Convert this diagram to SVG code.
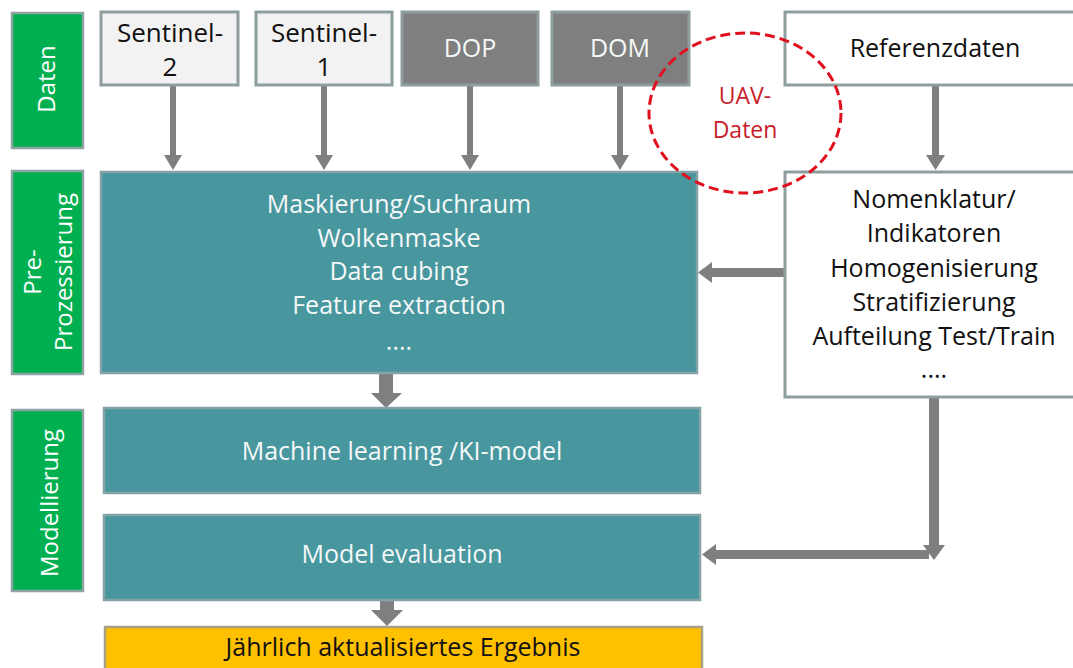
<svg xmlns="http://www.w3.org/2000/svg" width="1073" height="668" viewBox="0 0 1073 668">
<style>
text{font-family:"Open Sans","Liberation Sans",sans-serif;text-anchor:middle}
.lane{fill:#00b050;stroke:#8fa3a3;stroke-width:2.5}
.lane text{fill:#ffffff;font-size:24px}
.light{fill:#f2f2f2;stroke:#8e9e9f;stroke-width:3}
.dark{fill:#7f7f7f;stroke:#8e9e9f;stroke-width:3}
.white{fill:#ffffff;stroke:#8e9e9f;stroke-width:3}
.teal{fill:#48969e;stroke:#85a3a6;stroke-width:2.5}
.yellow{fill:#ffc000;stroke:#a8a080;stroke-width:2.5}
.blk{fill:#111111;font-size:25px}
.wht{fill:#f4f8f8;font-size:25px}
.top{font-size:26px}
.arrow{fill:#7f7f7f}
</style>
<rect width="1073" height="668" fill="#ffffff"/>

<g id="lane-daten" class="lane">
<rect x="12" y="13" width="71" height="135"/>
<text transform="translate(55,79) rotate(-90)" stroke="none">Daten</text>
</g>
<g id="lane-pre" class="lane">
<rect x="12" y="171" width="71" height="203"/>
<text transform="translate(41,272) rotate(-90)" stroke="none">Pre-</text>
<text transform="translate(72,272) rotate(-90)" stroke="none">Prozessierung</text>
</g>
<g id="lane-model" class="lane">
<rect x="12" y="410" width="71" height="181"/>
<text transform="translate(58,503) rotate(-90)" stroke="none">Modellierung</text>
</g>

<g id="connectors">
<rect class="arrow" x="170" y="85" width="6" height="72"/>
<polygon class="arrow" points="164,155 182,155 173,170"/>
<rect class="arrow" x="321" y="85" width="6" height="72"/>
<polygon class="arrow" points="315,155 333,155 324,170"/>
<rect class="arrow" x="467" y="85" width="6" height="72"/>
<polygon class="arrow" points="461,155 479,155 470,170"/>
<rect class="arrow" x="617" y="85" width="6" height="72"/>
<polygon class="arrow" points="611,155 629,155 620,170"/>
<rect class="arrow" x="932" y="85" width="7" height="72"/>
<polygon class="arrow" points="926,155 945,155 935.5,170"/>
<rect class="arrow" x="710" y="268" width="75" height="9"/>
<polygon class="arrow" points="712,262 712,283 698,272.5"/>
<rect class="arrow" x="379" y="374" width="14" height="21"/>
<polygon class="arrow" points="371,393 402,393 386,408"/>
<rect class="arrow" x="929" y="397" width="10" height="150"/>
<polygon class="arrow" points="923,545 945,545 934,560"/>
<rect class="arrow" x="714" y="550" width="215" height="9"/>
<polygon class="arrow" points="716,544 716,565 702,554.5"/>
<rect class="arrow" x="380" y="600" width="14" height="12"/>
<polygon class="arrow" points="371,610 403,610 387,626"/>
</g>

<g id="node-s2">
<rect class="light" x="101" y="12" width="137" height="73"/>
<text class="blk top" x="170" y="42">Sentinel-</text>
<text class="blk top" x="170" y="76">2</text>
</g>
<g id="node-s1">
<rect class="light" x="256" y="12" width="136" height="73"/>
<text class="blk top" x="324" y="42">Sentinel-</text>
<text class="blk top" x="324" y="76">1</text>
</g>
<g id="node-dop">
<rect class="dark" x="402" y="12" width="136" height="73"/>
<text class="wht" x="470" y="57">DOP</text>
</g>
<g id="node-dom">
<rect class="dark" x="552" y="12" width="137" height="73"/>
<text class="wht" x="620" y="57">DOM</text>
</g>
<g id="node-ref">
<rect class="white" x="785" y="12" width="300" height="73"/>
<text class="blk" x="935" y="57">Referenzdaten</text>
</g>

<g id="node-pre">
<rect class="teal" x="101" y="172" width="596" height="201"/>
<text class="wht" x="399" y="213">Maskierung/Suchraum</text>
<text class="wht" x="399" y="247">Wolkenmaske</text>
<text class="wht" x="399" y="280">Data cubing</text>
<text class="wht" x="399" y="314">Feature extraction</text>
<text class="wht" x="399" y="350">....</text>
</g>

<g id="node-nomen">
<rect class="white" x="785" y="172" width="300" height="225"/>
<text class="blk" x="934" y="208">Nomenklatur/</text>
<text class="blk" x="934" y="242">Indikatoren</text>
<text class="blk" x="934" y="277">Homogenisierung</text>
<text class="blk" x="934" y="311">Stratifizierung</text>
<text class="blk" x="934" y="345">Aufteilung Test/Train</text>
<text class="blk" x="934" y="378">....</text>
</g>

<g id="node-uav">
<ellipse cx="745" cy="113" rx="96" ry="80" fill="none" stroke="#e0101e" stroke-width="3" stroke-dasharray="10,5"/>
<text x="745" y="104" fill="#c8202a" font-size="23">UAV-</text>
<text x="745" y="138" fill="#c8202a" font-size="23">Daten</text>
</g>

<g id="node-ml">
<rect class="teal" x="104" y="408" width="596" height="85"/>
<text class="wht" x="402" y="460">Machine learning /KI-model</text>
</g>
<g id="node-eval">
<rect class="teal" x="104" y="515" width="596" height="85"/>
<text class="wht" x="402" y="563">Model evaluation</text>
</g>
<g id="node-result">
<rect class="yellow" x="105" y="627" width="597" height="50"/>
<text x="403" y="656" fill="#111111" font-size="25">Jährlich aktualisiertes Ergebnis</text>
</g>
</svg>
